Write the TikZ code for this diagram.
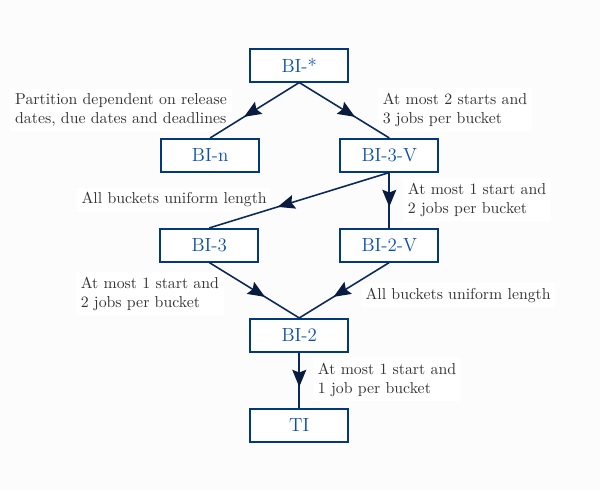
\documentclass[tikz,border=0pt]{standalone}
\usepackage{xcolor}
\usepackage{tikz}
\usetikzlibrary{arrows.meta,decorations.markings}
\definecolor{navy}{HTML}{0A2A5A}
\definecolor{tipnavy}{HTML}{0A1C3E}
\definecolor{boxline}{HTML}{003A7A}
\definecolor{boxtext}{HTML}{0A4FAE}
\definecolor{notegray}{HTML}{333333}
\definecolor{pagebg}{HTML}{FCFCFD}

\begin{document}
\begin{tikzpicture}[form/.style={draw=boxline,line width=1.1pt,fill=white,text=boxtext,minimum width=2.18cm,minimum height=0.73cm,inner sep=0pt,font=\large},note/.style={fill=white,text=notegray,align=left,inner sep=3pt},edge/.style={draw=navy,line width=1pt,postaction={decorate},decoration={markings,mark=at position 0.62 with {\arrow{Stealth[length=3.8mm,width=3.1mm,inset=0.6mm,color=tipnavy]}}}}]
\fill[pagebg] (0,0) rectangle (13.333,-10.889);
\useasboundingbox (0,0) rectangle (13.333,-10.889);
\node[form] (bistar) at (6.65,-1.45) {BI-*};
\node[form] (bin) at (4.67,-3.45) {BI-n};
\node[form] (bi3v) at (8.65,-3.45) {BI-3-V};
\node[form] (bi3) at (4.65,-5.45) {BI-3};
\node[form] (bi2v) at (8.65,-5.45) {BI-2-V};
\node[form] (bi2) at (6.65,-7.45) {BI-2};
\node[form] (ti) at (6.65,-9.45) {TI};
\node[note] (partnote) at (2.69,-2.44) {Partition dependent on release\\dates, due dates and deadlines};
\node[note] (twostart) at (10.11,-2.44) {At most 2 starts and\\3 jobs per bucket};
\node[note] (uniformA) at (3.87,-4.44) {All buckets uniform length};
\node[note] (onestartA) at (10.6,-4.44) {At most 1 start and\\2 jobs per bucket};
\node[note] (onestartB) at (3.33,-6.53) {At most 1 start and\\2 jobs per bucket};
\node[note] (uniformB) at (10.18,-6.56) {All buckets uniform length};
\node[note] (onejob) at (8.6,-8.44) {At most 1 start and\\1 job per bucket};
\draw[edge] (bistar.south) -- (bin.north);
\draw[edge] (bistar.south) -- (bi3v.north);
\draw[edge] (bi3v.south) -- (bi3.north);
\draw[edge] (bi3v.south) -- (bi2v.north);
\draw[edge] (bi3.south) -- (bi2.north);
\draw[edge] (bi2v.south) -- (bi2.north);
\draw[edge] (bi2.south) -- (ti.north);
\end{tikzpicture}
\end{document}
